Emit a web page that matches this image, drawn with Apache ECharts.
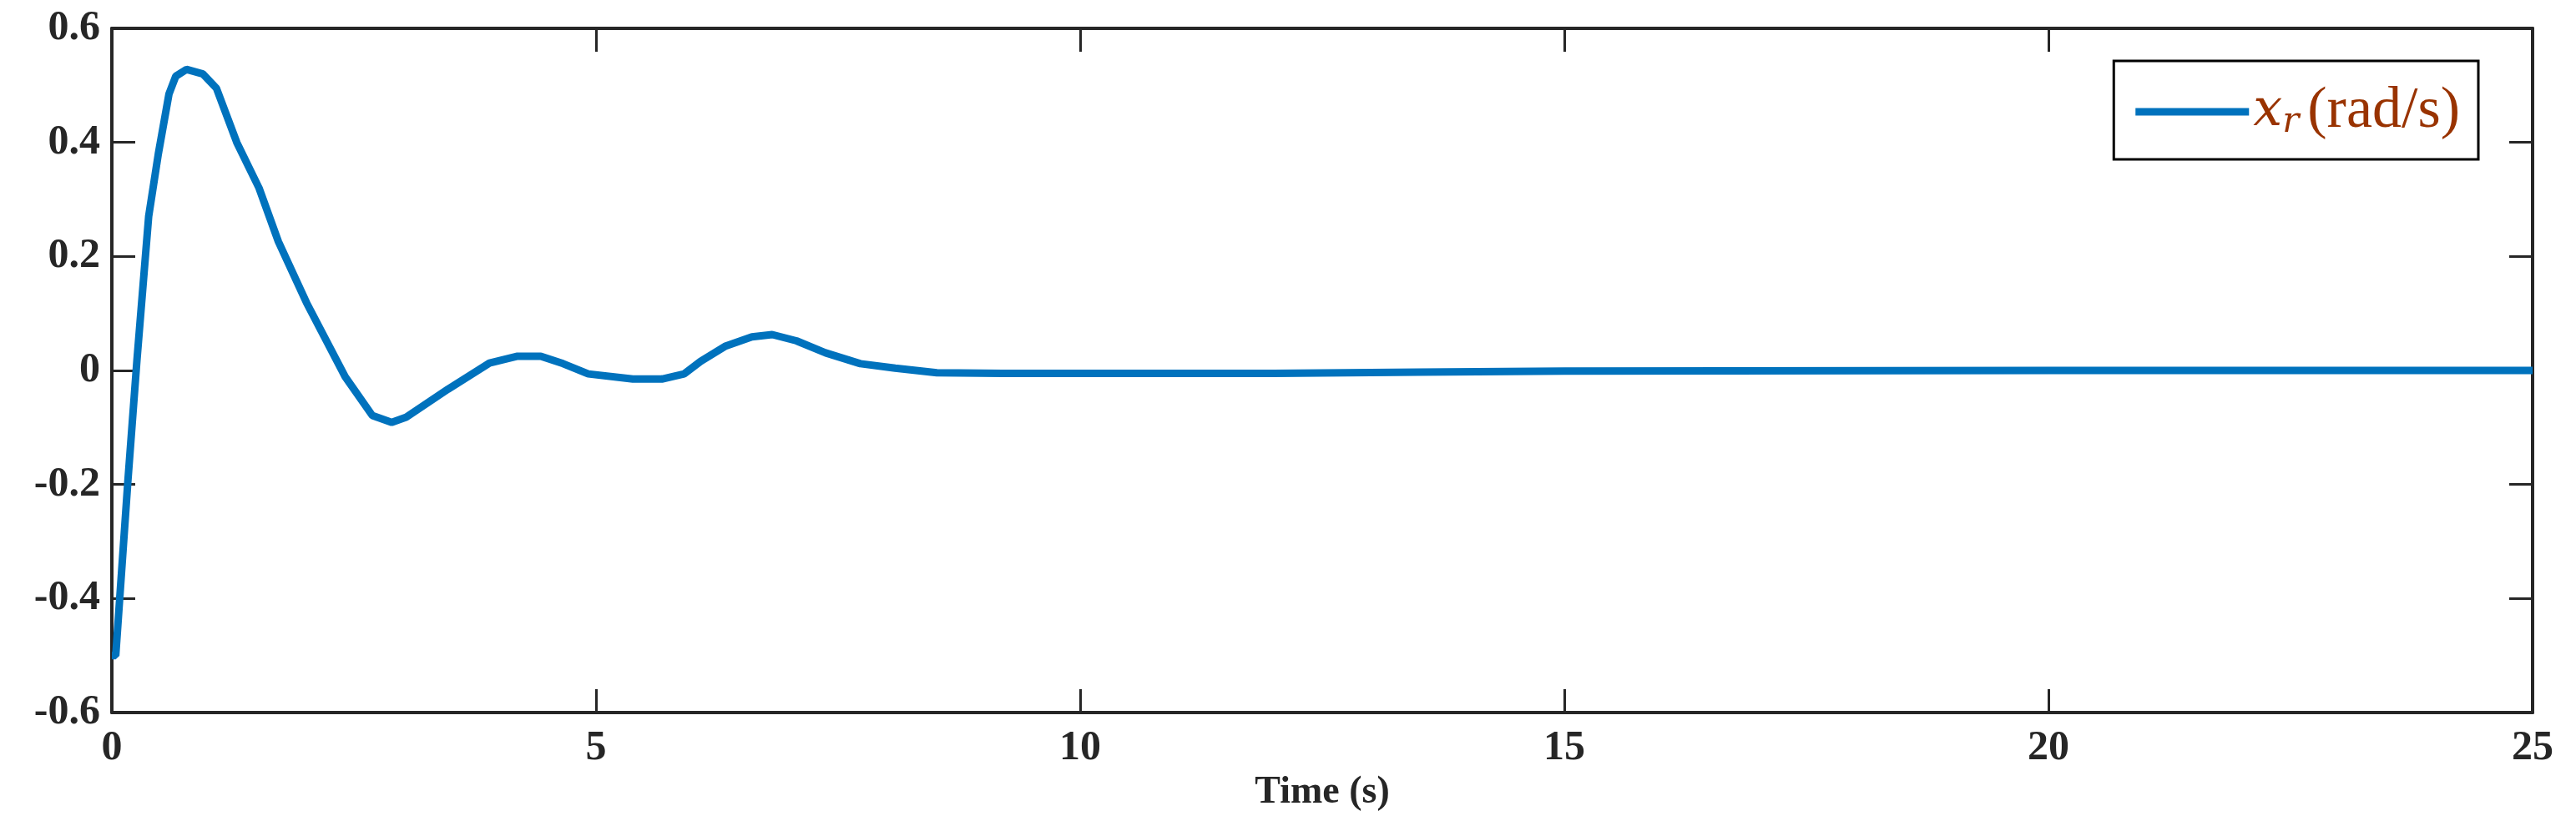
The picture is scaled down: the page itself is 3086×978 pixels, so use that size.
<!DOCTYPE html>
<html>
<head>
<meta charset="utf-8">
<script src="https://cdn.jsdelivr.net/npm/echarts@6/dist/echarts.min.js"></script>
<style>html,body{margin:0;padding:0;background:#fff}#chart{width:3086px;height:978px}</style>
</head>
<body>
<div id="chart"></div>
<script>
// values
let timeS = [0, 0.04, 0.165, 0.26, 0.38, 0.48, 0.59, 0.66, 0.77, 0.94, 1.08, 1.29, 1.52, 1.72, 2.01, 2.41, 2.69, 2.89, 3.04, 3.47, 3.9, 4.19, 4.43, 4.66, 4.92, 5.38, 5.68, 5.91, 6.08, 6.34, 6.61, 6.82, 7.07, 7.37, 7.73, 8.09, 8.52, 9.2, 10, 12, 13.5, 15, 20, 25];
let xr = [-0.5, -0.5, -0.195, 0.02, 0.27, 0.38, 0.485, 0.516, 0.528, 0.52, 0.495, 0.4, 0.32, 0.226, 0.119, -0.011, -0.079, -0.091, -0.082, -0.033, 0.013, 0.025, 0.025, 0.012, -0.006, -0.015, -0.015, -0.006, 0.016, 0.043, 0.059, 0.063, 0.052, 0.031, 0.012, 0.004, -0.004, -0.005, -0.005, -0.005, -0.003, -0.001, 0, 0];
let seriesName = 'xr';

let points = timeS.map((t, i) => [t, xr[i]]);
let chart = echarts.init(document.getElementById('chart'));
let axisLine = { show: true, onZero: false, lineStyle: { color: '#262626', width: 4 } };
let tick = { show: true, inside: true, length: 28, lineStyle: { color: '#262626', width: 3 } };
let lbl = { color: '#262626', fontFamily: 'Liberation Serif', fontWeight: 'bold', fontSize: 50 };

let option = {
  animation: false,
  grid: { left: 134, right: 52, top: 34, bottom: 94 },
  legend: {
    right: 117, top: 73, itemWidth: 136, itemHeight: 9, itemGap: 10, padding: [26, 22, 22, 26],
    borderColor: '#000', borderWidth: 3, backgroundColor: '#fff',
    icon: 'rect',
    data: [seriesName],
    formatter: () => '{x|x}{r|r}{t|(rad/s)}',
    textStyle: {
      rich: {
        x: { fontFamily: 'DejaVu Serif', fontStyle: 'italic', fontSize: 62, color: '#993300' },
        r: { fontFamily: 'DejaVu Serif', fontStyle: 'italic', fontSize: 42, color: '#993300', padding: [26, 10, 0, 0] },
        t: { fontFamily: 'Liberation Serif', fontSize: 70, color: '#993300' }
      }
    }
  },
  xAxis: [{
    type: 'value', min: 0, max: 25, interval: 5,
    name: 'Time (s)', nameLocation: 'middle', nameGap: 42,
    nameTextStyle: { color: '#262626', fontFamily: 'Liberation Serif', fontWeight: 'bold', fontSize: 46 },
    axisLine: axisLine, axisTick: tick, splitLine: { show: false },
    axisLabel: Object.assign({ margin: 18 }, lbl)
  }, {
    type: 'value', min: 0, max: 25, interval: 5, position: 'top',
    axisLine: axisLine, axisTick: tick, splitLine: { show: false }, axisLabel: { show: false }
  }],
  yAxis: [{
    type: 'value', min: -0.6, max: 0.6, interval: 0.2,
    axisLine: axisLine, axisTick: tick, splitLine: { show: false },
    axisLabel: Object.assign({ margin: 14, formatter: v => (Math.abs(v) < 1e-9 ? '0' : v.toFixed(1)) }, lbl)
  }, {
    type: 'value', min: -0.6, max: 0.6, interval: 0.2, position: 'right',
    axisLine: axisLine, axisTick: tick, splitLine: { show: false }, axisLabel: { show: false }
  }],
  series: [{
    name: seriesName, type: 'line', data: points, showSymbol: false,
    lineStyle: { color: '#0072BD', width: 9 }, itemStyle: { color: '#0072BD' }
  }]
};
chart.setOption(option);
</script>
</body>
</html>
